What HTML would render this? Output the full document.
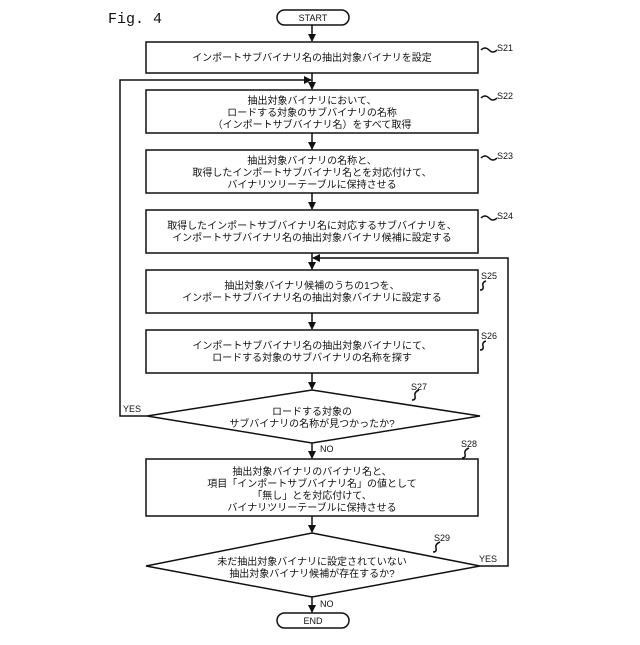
<!DOCTYPE html>
<html><head><meta charset="utf-8"><style>
body{margin:0;background:#fff}
svg text{font-family:"Liberation Sans","Noto Sans CJK JP",sans-serif;fill:#111}
</style></head><body>
<svg width="640" height="640" viewBox="0 0 640 640" xmlns="http://www.w3.org/2000/svg">
<defs><marker id="a" markerWidth="8" markerHeight="8" refX="7" refY="4" orient="auto" markerUnits="userSpaceOnUse"><path d="M0,0 L8,4 L0,8 z" fill="#111"/></marker></defs>
<g stroke="#111" stroke-width="1.5" fill="none">
<rect x="277" y="10" width="72" height="15" rx="7.5"/>
<rect x="146" y="42" width="332" height="31"/>
<rect x="146" y="90" width="332" height="43"/>
<rect x="146" y="150" width="332" height="43"/>
<rect x="146" y="210" width="332" height="43"/>
<rect x="146" y="270" width="332" height="43"/>
<rect x="146" y="330" width="332" height="43"/>
<polygon points="312,390 480,416 312,443 147,416"/>
<rect x="146" y="459" width="332" height="57"/>
<polygon points="312,533 480,566 312,597 146,566"/>
<rect x="277" y="613" width="72" height="15" rx="7.5"/>
<line x1="312" y1="25" x2="312" y2="41" marker-end="url(#a)"/>
<line x1="312" y1="73" x2="312" y2="89" marker-end="url(#a)"/>
<line x1="312" y1="133" x2="312" y2="149" marker-end="url(#a)"/>
<line x1="312" y1="193" x2="312" y2="209" marker-end="url(#a)"/>
<line x1="312" y1="253" x2="312" y2="269" marker-end="url(#a)"/>
<line x1="312" y1="313" x2="312" y2="329" marker-end="url(#a)"/>
<line x1="312" y1="373" x2="312" y2="389" marker-end="url(#a)"/>
<line x1="312" y1="443" x2="312" y2="458" marker-end="url(#a)"/>
<line x1="312" y1="516" x2="312" y2="532" marker-end="url(#a)"/>
<line x1="312" y1="597" x2="312" y2="612" marker-end="url(#a)"/>
<polyline points="147,416 120,416 120,80 311,80" marker-end="url(#a)"/>
<polyline points="480,566 508,566 508,258 313,258" marker-end="url(#a)"/>
<path d="M481,50 q4,-4 8,0 t8,0"/><path d="M481,98 q4,-4 8,0 t8,0"/><path d="M481,158 q4,-4 8,0 t8,0"/><path d="M481,218 q4,-4 8,0 t8,0"/>
<path d="M480,290 q4,0 3,-4 t3,-5"/><path d="M480,350 q4,0 3,-4 t3,-5"/>
<path d="M412,400 q4,0 3,-4 t4,-6"/><path d="M462,458 q4,0 3,-4 t4,-6"/><path d="M433,552 q4,0 3,-4 t4,-6"/>
</g>
<g font-size="10" text-anchor="middle">
<text x="313" y="21" font-size="9">START</text>
<text x="313" y="624" font-size="9">END</text>
<text x="312" y="61">インポートサブバイナリ名の抽出対象バイナリを設定</text>
<text x="312" y="104">抽出対象バイナリにおいて、</text>
<text x="312" y="116">ロードする対象のサブバイナリの名称</text>
<text x="312" y="128">（インポートサブバイナリ名）をすべて取得</text>
<text x="312" y="164">抽出対象バイナリの名称と、</text>
<text x="312" y="176">取得したインポートサブバイナリ名とを対応付けて、</text>
<text x="312" y="188">バイナリツリーテーブルに保持させる</text>
<text x="312" y="229">取得したインポートサブバイナリ名に対応するサブバイナリを、</text>
<text x="312" y="241">インポートサブバイナリ名の抽出対象バイナリ候補に設定する</text>
<text x="312" y="289">抽出対象バイナリ候補のうちの1つを、</text>
<text x="312" y="301">インポートサブバイナリ名の抽出対象バイナリに設定する</text>
<text x="312" y="349">インポートサブバイナリ名の抽出対象バイナリにて、</text>
<text x="312" y="361">ロードする対象のサブバイナリの名称を探す</text>
<text x="312" y="415">ロードする対象の</text>
<text x="312" y="427">サブバイナリの名称が見つかったか?</text>
<text x="312" y="475">抽出対象バイナリのバイナリ名と、</text>
<text x="312" y="487">項目「インポートサブバイナリ名」の値として</text>
<text x="312" y="499">「無し」とを対応付けて、</text>
<text x="312" y="511">バイナリツリーテーブルに保持させる</text>
<text x="312" y="565">未だ抽出対象バイナリに設定されていない</text>
<text x="312" y="577">抽出対象バイナリ候補が存在するか?</text>
</g>
<g font-size="9">
<text x="497" y="51">S21</text><text x="497" y="99">S22</text><text x="497" y="159">S23</text><text x="497" y="219">S24</text>
<text x="481" y="279">S25</text><text x="481" y="339">S26</text>
<text x="411" y="390">S27</text><text x="461" y="447">S28</text><text x="434" y="541">S29</text>
<text x="123" y="412">YES</text><text x="479" y="562">YES</text>
<text x="320" y="452">NO</text><text x="320" y="607">NO</text>
</g>
<text x="108" y="23" font-size="15" style="font-family:'Liberation Mono',monospace">Fig. 4</text>
</svg>
</body></html>
